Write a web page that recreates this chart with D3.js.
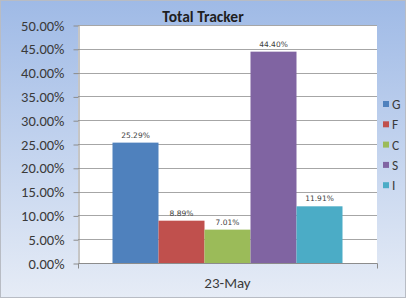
<!DOCTYPE html>
<html><head><meta charset="utf-8">
<script src="https://cdn.jsdelivr.net/npm/d3@7"></script>
<style>body{margin:0;padding:0;overflow:hidden}svg{display:block}</style>
</head><body>
<script>
const categories = ["23-May"];
const seriesNames = ["G", "F", "C", "S", "I"];
const seriesValues = [25.29, 8.89, 7.01, 44.40, 11.91];
const seriesColors = ["#4f81bd", "#c0504d", "#9bbb59", "#8064a2", "#4bacc6"];
const yTicks = [0, 5, 10, 15, 20, 25, 30, 35, 40, 45, 50];
const title = "Total Tracker";

const W = 407, H = 300;
const m = {left: 78, right: 30, top: 25, bottom: 37};
const svg = d3.select("body").append("svg").attr("width", W).attr("height", H);

const defs = svg.append("defs");
const g = defs.append("linearGradient").attr("id", "bg").attr("x1", 0).attr("y1", 0).attr("x2", 0).attr("y2", 1);
g.append("stop").attr("offset", "0%").attr("stop-color", "#9fbae6");
g.append("stop").attr("offset", "100%").attr("stop-color", "#e6ecf6");

svg.append("rect").attr("x", 0.5).attr("y", 0.5).attr("width", W - 2).attr("height", H - 3)
  .attr("fill", "url(#bg)").attr("stroke", "#b8bcc4").attr("stroke-width", 1);

const x0 = d3.scaleBand().domain(categories).range([m.left, W - m.right]).paddingInner(0).paddingOuter(0.15);
const x1 = d3.scaleBand().domain(seriesNames).range([0, x0.bandwidth()]);
const y = d3.scaleLinear().domain([0, 50]).range([H - m.bottom, m.top]);

svg.append("rect").attr("x", m.left).attr("y", m.top).attr("width", W - m.right - m.left)
  .attr("height", H - m.bottom - m.top).attr("fill", "#ffffff");

// gridlines
svg.append("g").selectAll("line").data(yTicks.filter(d => d > 0)).join("line")
  .attr("x1", m.left).attr("x2", W - m.right)
  .attr("y1", d => Math.round(y(d)) + 0.5).attr("y2", d => Math.round(y(d)) + 0.5)
  .attr("stroke", "#a6a6a6").attr("stroke-width", 1);

// bars
const cat = categories[0];
svg.append("g").selectAll("rect").data(seriesNames).join("rect")
  .attr("x", (d) => x0(cat) + x1(d))
  .attr("width", x1.bandwidth())
  .attr("y", (d, i) => y(seriesValues[i]))
  .attr("height", (d, i) => y(0) - y(seriesValues[i]))
  .attr("fill", (d, i) => seriesColors[i]);

// data labels
svg.append("g").selectAll("text").data(seriesNames).join("text")
  .attr("x", d => x0(cat) + x1(d) + x1.bandwidth() / 2)
  .attr("y", (d, i) => y(seriesValues[i]) - 5)
  .attr("text-anchor", "middle")
  .attr("font-family", "'DejaVu Sans', sans-serif").attr("font-size", 7.5).attr("fill", "#404040")
  .text((d, i) => seriesValues[i].toFixed(2) + "%");

// y axis
const yAxis = d3.axisLeft(y).tickValues(yTicks).tickSize(5).tickSizeOuter(0).tickPadding(9)
  .tickFormat(d => d.toFixed(2) + "%");
const ya = svg.append("g").attr("transform", `translate(${m.left + 0.5},0.5)`).call(yAxis);
ya.select(".domain").attr("stroke", "#8c8c8c");
ya.selectAll(".tick line").attr("stroke", "#8c8c8c");
ya.selectAll(".tick text").attr("font-family", "Carlito, Lato, 'Open Sans', sans-serif").attr("font-size", 14.5).attr("fill", "#3a3a3a");

// x axis
const xAxis = d3.axisBottom(x0).tickSize(0).tickPadding(14);
const xa = svg.append("g").attr("transform", `translate(0,${H - m.bottom + 0.5})`).call(xAxis);
xa.select(".domain").attr("stroke", "#8c8c8c").attr("d", `M${m.left + 0.5},5V0H${W - m.right + 0.5}V5`);
xa.selectAll(".tick text").attr("font-family", "Carlito, Lato, 'Open Sans', sans-serif").attr("font-size", 15).attr("fill", "#3a3a3a");

// title
svg.append("text").attr("x", 203).attr("y", 22).attr("text-anchor", "middle")
  .attr("font-family", "Carlito, Lato, 'Open Sans', sans-serif").attr("font-weight", "bold").attr("font-size", 15.5)
  .attr("fill", "#1f1f1f").text(title);

// legend
const lg = svg.append("g").selectAll("g").data(seriesNames).join("g")
  .attr("transform", (d, i) => `translate(383,${104 + i * 20.3})`);
lg.append("rect").attr("x", 0).attr("y", -3).attr("width", 6).attr("height", 6).attr("fill", (d, i) => seriesColors[i]);
lg.append("text").attr("x", 9).attr("y", 5).attr("font-family", "Carlito, Lato, 'Open Sans', sans-serif")
  .attr("font-size", 13.5).attr("fill", "#3a3a3a").text(d => d);
</script>
</body></html>
